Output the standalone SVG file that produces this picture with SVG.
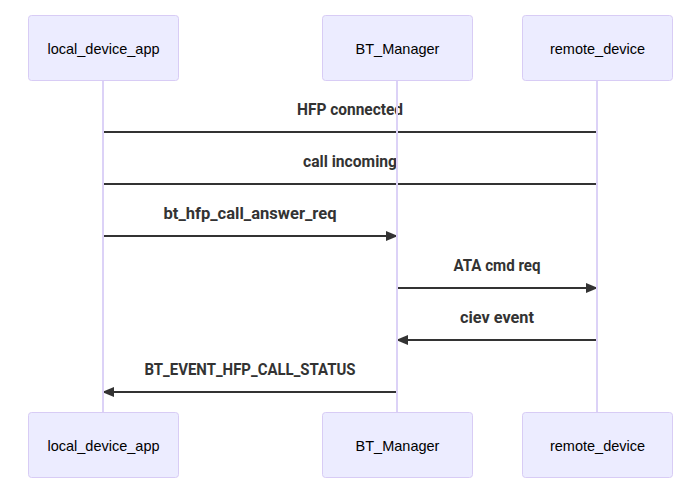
<svg xmlns="http://www.w3.org/2000/svg" width="696" height="493" viewBox="0 0 696 493">
<style>
.actor{fill:#ECECFF;stroke:#D8CCF5;stroke-width:1}
.atext{font-family:"Liberation Sans",Arial,sans-serif;font-size:14.5px;fill:#000;text-anchor:middle}
.life{stroke:#DCD2F7;stroke-width:2}
.msg{stroke:#333;stroke-width:2;fill:none}
.mtext{font-family:Roboto,"Liberation Sans",sans-serif;font-weight:bold;font-size:16px;fill:#333;text-anchor:middle}
</style>
<defs>
<marker id="arrow" viewBox="0 0 12 10" refX="12" refY="5" markerWidth="12" markerHeight="10" markerUnits="userSpaceOnUse" orient="auto">
<path d="M0,0 L12,5 L0,10 z" fill="#333"/>
</marker>
</defs>
<rect width="696" height="493" fill="#fff"/>
<g id="messages">
<text class="mtext" x="350" y="115" textLength="106" lengthAdjust="spacingAndGlyphs">HFP connected</text>
<text class="mtext" x="350" y="167" textLength="94" lengthAdjust="spacingAndGlyphs">call incoming</text>
<text class="mtext" x="250" y="219" textLength="173" lengthAdjust="spacingAndGlyphs">bt_hfp_call_answer_req</text>
<text class="mtext" x="497" y="271" textLength="87" lengthAdjust="spacingAndGlyphs">ATA cmd req</text>
<text class="mtext" x="497" y="323" textLength="74" lengthAdjust="spacingAndGlyphs">ciev event</text>
<text class="mtext" x="250" y="375" textLength="211" lengthAdjust="spacingAndGlyphs">BT_EVENT_HFP_CALL_STATUS</text>
</g>
<g id="connectors">
<line class="msg" x1="597" y1="132" x2="103" y2="132"/>
<line class="msg" x1="597" y1="184" x2="103" y2="184"/>
<line class="msg" x1="103" y1="236" x2="398" y2="236" marker-end="url(#arrow)"/>
<line class="msg" x1="397" y1="288" x2="598" y2="288" marker-end="url(#arrow)"/>
<line class="msg" x1="597" y1="340" x2="396" y2="340" marker-end="url(#arrow)"/>
<line class="msg" x1="397" y1="392" x2="102" y2="392" marker-end="url(#arrow)"/>
</g>
<g id="lifelines">
<line class="life" x1="103" y1="80" x2="103" y2="412"/>
<line class="life" x1="397" y1="80" x2="397" y2="412"/>
<line class="life" x1="597" y1="80" x2="597" y2="412"/>
</g>
<g id="local_device_app">
<rect class="actor" x="28.5" y="15.5" width="150" height="65" rx="3"/>
<rect class="actor" x="28.5" y="412.5" width="150" height="65" rx="3"/>
<text class="atext" x="103.5" y="54">local_device_app</text>
<text class="atext" x="103.5" y="451">local_device_app</text>
</g>
<g id="BT_Manager">
<rect class="actor" x="322.5" y="15.5" width="150" height="65" rx="3"/>
<rect class="actor" x="322.5" y="412.5" width="150" height="65" rx="3"/>
<text class="atext" x="397.5" y="54">BT_Manager</text>
<text class="atext" x="397.5" y="451">BT_Manager</text>
</g>
<g id="remote_device">
<rect class="actor" x="522.5" y="15.5" width="150" height="65" rx="3"/>
<rect class="actor" x="522.5" y="412.5" width="150" height="65" rx="3"/>
<text class="atext" x="597.5" y="54">remote_device</text>
<text class="atext" x="597.5" y="451">remote_device</text>
</g>
</svg>
